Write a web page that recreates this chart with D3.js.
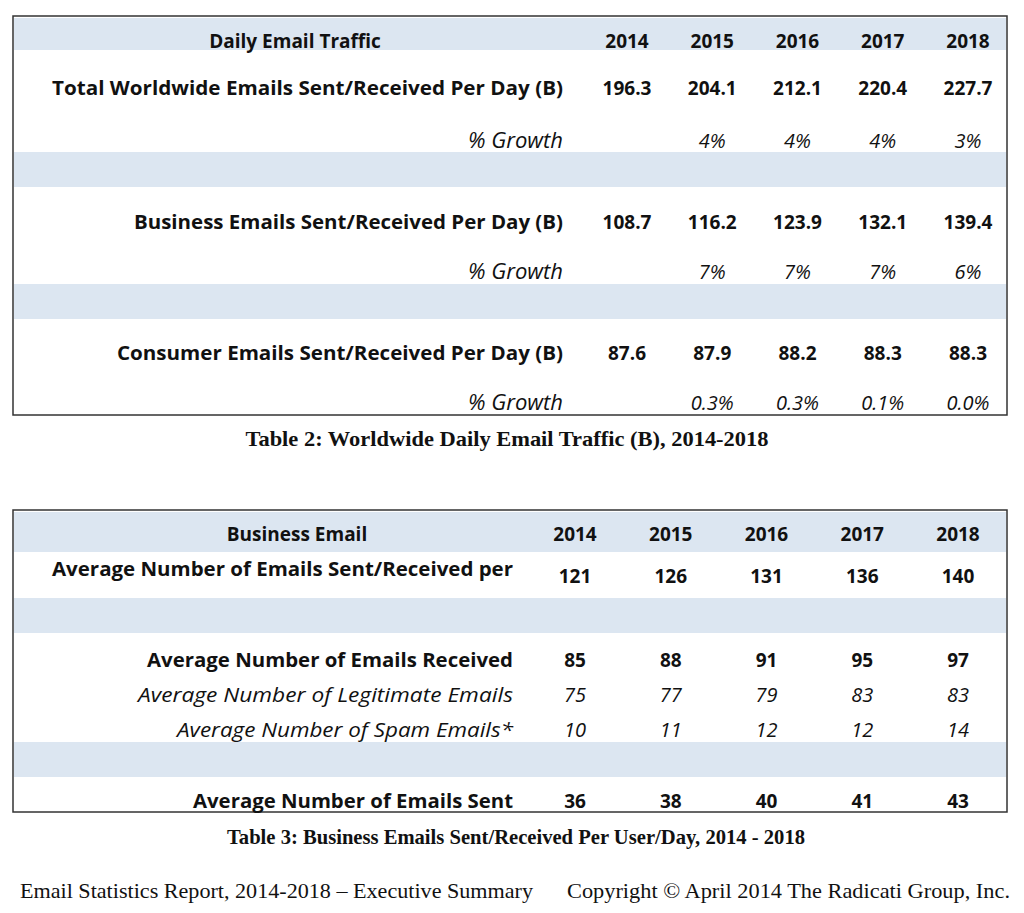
<!DOCTYPE html><html><head><meta charset="utf-8"><script src="https://cdn.jsdelivr.net/npm/d3@7"></script>
<style>body{margin:0;background:#fff}</style></head><body><svg id="c" width="1024" height="913"></svg><script>
const years=["2014","2015","2016","2017","2018"];
const t1Rows=["Total Worldwide Emails Sent/Received Per Day (B)","Business Emails Sent/Received Per Day (B)","Consumer Emails Sent/Received Per Day (B)"];
const t1Values=[["196.3","204.1","212.1","220.4","227.7"],["108.7","116.2","123.9","132.1","139.4"],["87.6","87.9","88.2","88.3","88.3"]];
const t1Growth=[["","4%","4%","4%","3%"],["","7%","7%","7%","6%"],["","0.3%","0.3%","0.1%","0.0%"]];
const t2Rows=["Average Number of Emails Sent/Received per","Average Number of Emails Received","Average Number of Legitimate Emails","Average Number of Spam Emails*","Average Number of Emails Sent"];
const t2Italic=[false,false,true,true,false];
const t2Values=[["121","126","131","136","140"],["85","88","91","95","97"],["75","77","79","83","83"],["10","11","12","12","14"],["36","38","40","41","43"]];
const svg=d3.select("#c");
const F="'Open Sans',sans-serif", S="'Liberation Serif',serif", blue="#dce6f1";
function txt(x,y,s,o={}){const t=svg.append("text").attr("x",x).attr("y",y).text(s).attr("font-family",o.f||F).attr("font-size",o.size||19).attr("font-weight",o.w||"bold").attr("font-style",o.i?"italic":"normal").attr("text-anchor",o.a||"middle").attr("fill","#111");if(o.len)t.attr("textLength",o.len).attr("lengthAdjust","spacingAndGlyphs");return t;}
// Table 1
const x1=d3.scalePoint().domain(years).range([627,968]);
[[18,50],[152,187],[284,319]].forEach(b=>svg.append("rect").attr("x",14).attr("y",b[0]).attr("width",992).attr("height",b[1]-b[0]).attr("fill",blue));
svg.append("rect").attr("x",13).attr("y",16).attr("width",994).attr("height",399).attr("fill","none").attr("stroke","#333").attr("stroke-width",1.5);
txt(295,48,"Daily Email Traffic");
years.forEach(y=>txt(x1(y),48,y));
const y1v=[95,229,360],y1g=[148,279,410];
t1Rows.forEach((r,i)=>{
 txt(563,y1v[i],r,{a:"end",len:[511,429,446][i]});
 txt(563,y1g[i],"% Growth",{a:"end",w:"normal",i:true,size:21,len:95});
 years.forEach((y,j)=>{txt(x1(y),y1v[i],t1Values[i][j]);txt(x1(y),y1g[i],t1Growth[i][j],{w:"normal",i:true,size:20});});
});
txt(507,446,"Table 2: Worldwide Daily Email Traffic (B), 2014-2018",{f:S,size:21,len:523});
// Table 2
const x2=d3.scalePoint().domain(years).range([575,958]);
[[512,552],[598,633],[742,777]].forEach(b=>svg.append("rect").attr("x",14).attr("y",b[0]).attr("width",992).attr("height",b[1]-b[0]).attr("fill",blue));
svg.append("rect").attr("x",13).attr("y",510).attr("width",994).attr("height",302).attr("fill","none").attr("stroke","#333").attr("stroke-width",1.5);
txt(297,541,"Business Email");
years.forEach(y=>txt(x2(y),541,y));
const y2=[576,667,702,737,808], y2v=[583,667,702,737,808], l2=[461,366,375,336,320];
t2Rows.forEach((r,i)=>{
 txt(513,y2[i],r,{a:"end",w:t2Italic[i]?"normal":"bold",i:t2Italic[i],size:t2Italic[i]?20:19,len:l2[i]});
 years.forEach((y,j)=>txt(x2(y),y2v[i],t2Values[i][j],{w:t2Italic[i]?"normal":"bold",i:t2Italic[i],size:t2Italic[i]?20:19}));
});
txt(516,844,"Table 3: Business Emails Sent/Received Per User/Day, 2014 - 2018",{f:S,size:21,len:578});
txt(20,898,"Email Statistics Report, 2014-2018 – Executive Summary",{f:S,size:22,w:"normal",a:"start",len:513});
txt(567,898,"Copyright © April 2014 The Radicati Group, Inc.",{f:S,size:22,w:"normal",a:"start",len:443});
</script></body></html>
